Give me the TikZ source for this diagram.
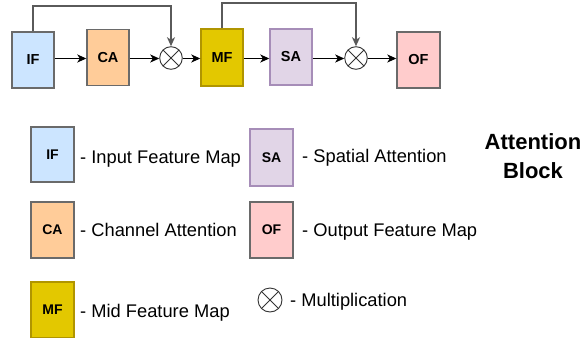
\documentclass[tikz,border=0pt]{standalone}
\usepackage{fontspec}
\setmainfont{Liberation Sans}
\usetikzlibrary{arrows.meta}
\definecolor{ifc}{HTML}{CCE5FF}
\definecolor{cac}{HTML}{FFCC99}
\definecolor{mfc}{HTML}{E3C800}
\definecolor{mfd}{HTML}{B09500}
\definecolor{sac}{HTML}{E1D5E7}
\definecolor{sad}{HTML}{A68DB8}
\definecolor{ofc}{HTML}{FFCCCC}
\definecolor{bdr}{HTML}{6A6A6A}
\definecolor{skipc}{HTML}{5A5A5A}
\tikzset{
  blk/.style={draw=bdr, line width=1.4pt, minimum width=42pt, minimum height=56pt, inner sep=0pt,
    font=\fontsize{14.5}{16}\selectfont\bfseries},
  lblk/.style={blk, minimum width=43pt, font=\fontsize{14}{16}\selectfont\bfseries},
  mult/.style={circle, draw=black!80, line width=0.9pt, minimum size=22.6pt, inner sep=0pt,
    path picture={\draw[black!80, line width=0.9pt] (path picture bounding box.south west) -- (path picture bounding box.north east)
      (path picture bounding box.north west) -- (path picture bounding box.south east);}},
  flow/.style={line width=1.3pt, -{Stealth[length=9pt,width=8pt,inset=2.5pt]}},
  skipln/.style={draw=skipc, line width=1.5pt, -{Stealth[length=9pt,width=8pt,inset=2.5pt]}},
  desc/.style={anchor=base west, inner sep=0pt, font=\fontsize{18.3}{20}\selectfont},
  ttl/.style={anchor=base, inner sep=0pt, font=\fontsize{22}{24}\selectfont\bfseries}
}
\begin{document}
\begin{tikzpicture}[x=1pt,y=-1pt]
\useasboundingbox (0,0) rectangle (585,337);
% top row
\node[blk, fill=ifc] (IF) at (33,60) {IF};
\node[blk, fill=cac] (CA) at (108,57.5) {CA};
\node[mult] (X1) at (171,58) {};
\node[blk, fill=mfc, draw=mfd, minimum height=57pt] (MF) at (222,57.5) {MF};
\node[blk, fill=sac, draw=sad] (SA) at (291,57) {SA};
\node[mult] (X2) at (356,58) {};
\node[blk, fill=ofc, minimum width=43pt] (OF) at (418.5,60) {OF};
\coordinate (t1) at (0,6);
\coordinate (t2) at (0,3);
\coordinate (row) at (0,58.5);
\draw[flow] (IF.east |- row) -- (CA.west |- row);
\draw[flow] (CA.east |- row) -- (X1.west |- row);
\draw[flow] (X1.east |- row) -- (MF.west |- row);
\draw[flow] (MF.east |- row) -- (SA.west |- row);
\draw[flow] (SA.east |- row) -- (X2.west |- row);
\draw[flow] (X2.east |- row) -- (OF.west |- row);
\draw[skipln] (IF.north) |- (t1 -| X1.north) -- (X1.north);
\draw[skipln] (MF.north) |- (t2 -| X2.north) -- (X2.north);
% legend
\node[lblk, fill=ifc, minimum height=55pt] (LIF) at (52.5,154.5) {IF};
\node[desc] (dIF) at (80,163) {- Input Feature Map};
\node[lblk, fill=sac, draw=sad, minimum height=57pt] (LSA) at (271.5,157.5) {SA};
\node[desc] (dSA) at (302,162) {- Spatial Attention};
\node[lblk, fill=cac] (LCA) at (52.5,230) {CA};
\node[desc] (dCA) at (80,236) {- Channel Attention};
\node[lblk, fill=ofc] (LOF) at (271.5,230) {OF};
\node[desc] (dOF) at (302,236) {- Output Feature Map};
\node[lblk, fill=mfc, draw=mfd] (LMF) at (52.5,310) {MF};
\node[desc] (dMF) at (80,317) {- Mid Feature Map};
\node[mult, minimum size=24pt] (LX) at (270,300) {};
\node[desc] (dX) at (290,306) {- Multiplication};
\node[ttl] (T1) at (533,149) {Attention};
\node[ttl] (T2) at (533,178) {Block};
\end{tikzpicture}
\end{document}
